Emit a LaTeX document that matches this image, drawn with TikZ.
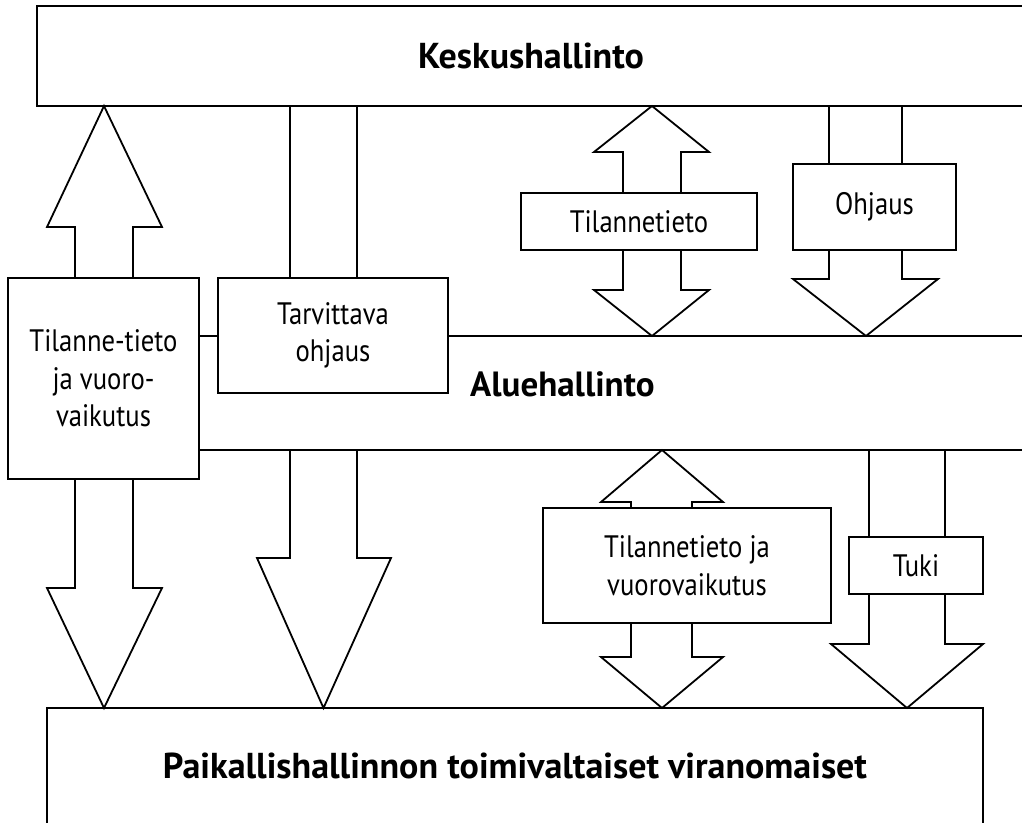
\documentclass[tikz,border=0pt]{standalone}
\usepackage{fontspec}
\newfontfamily\rfont{PT Sans}[FakeStretch=0.86]
\newfontfamily\bfont{PT Sans}[FakeStretch=1.0]
\tikzset{
  lw/.style={line width=1.8pt, line join=miter},
  box/.style={lw, draw=black, fill=white, rectangle, inner sep=0pt, align=center,
     font=\rfont\fontsize{31}{37.5}\selectfont},
  big/.style={lw, draw=black, fill=white, rectangle, inner sep=0pt, align=center,
     font=\bfont\bfseries\fontsize{36}{42}\selectfont},
  lbl/.style={inner sep=0pt, font=\bfont\bfseries\fontsize{35}{40}\selectfont},
  blk/.style={lw, draw=black}
}
\begin{document}
\begin{tikzpicture}[x=1pt,y=-1pt]
\useasboundingbox (0,0) rectangle (1022,822);
\clip (0,0) rectangle (1022,822);
\fill[white] (0,0) rectangle (1022,822);

% horizontal lines of the middle level
\draw[blk] (199,336) -- (218,336);
\draw[blk] (448,336) -- (1030,336);
\draw[blk] (199,450) -- (1030,450);

% big boxes
\node[big, minimum width=988pt, minimum height=100pt] (top) at (531,56) {Keskushallinto};
\node[big, minimum width=936pt, minimum height=116pt] (bot) at (515,766) {Paikallishallinnon toimivaltaiset viranomaiset};
\node[lbl, anchor=west] (alue) at (470,384) {Aluehallinto};

% block arrows
% left up arrow
\draw[blk] (75,278) -- (75,227) -- (47,227) -- (104,106) -- (162,227) -- (133,227) -- (133,278);
% Tarvittava shaft
\draw[blk] (290,106) -- (290,278);
\draw[blk] (357,106) -- (357,278);
% top Tilannetieto double arrow
\draw[blk] (623,193) -- (623,152) -- (594,152) -- (652,106) -- (709,152) -- (681,152) -- (681,193);
\draw[blk] (623,250) -- (623,290) -- (594,290) -- (652,336) -- (709,290) -- (681,290) -- (681,250);
% Ohjaus
\draw[blk] (829,106) -- (829,164);
\draw[blk] (902,106) -- (902,164);
\draw[blk] (829,250) -- (829,279) -- (793,279) -- (866,336) -- (938,279) -- (902,279) -- (902,250);
% left down arrow
\draw[blk] (75,479) -- (75,588) -- (47,588) -- (104,708) -- (162,588) -- (133,588) -- (133,479);
% second down arrow
\draw[blk] (290,450) -- (290,558) -- (257,558) -- (323.5,708) -- (391,558) -- (357,558) -- (357,450);
% bottom Tilannetieto double arrow
\draw[blk] (631,508) -- (631,502) -- (601,502) -- (662,450) -- (723,502) -- (692,502) -- (692,508);
\draw[blk] (631,623) -- (631,657) -- (601,657) -- (662,708) -- (723,657) -- (692,657) -- (692,623);
% Tuki
\draw[blk] (869,450) -- (869,537);
\draw[blk] (945,450) -- (945,537);
\draw[blk] (869,594) -- (869,644) -- (831,644) -- (907,708) -- (983,644) -- (945,644) -- (945,594);

% label boxes
\node[box, minimum width=191pt, minimum height=201pt] (vuoro) at (103.5,378.5) {Tilanne-tieto\\ja vuoro-\\vaikutus};
\node[box, minimum width=230pt, minimum height=115pt] (tarv) at (333,335.5) {Tarvittava\\ohjaus};
\node[box, minimum width=236pt, minimum height=57pt] (tila1) at (639,221.5) {Tilannetieto};
\node[box, minimum width=163pt, minimum height=86pt] (ohj) at (874.5,207) {Ohjaus};
\node[box, minimum width=288pt, minimum height=115pt] (tila2) at (687,565.5) {Tilannetieto ja\\vuorovaikutus};
\node[box, minimum width=134pt, minimum height=57pt] (tuki) at (916,565.5) {Tuki};
\end{tikzpicture}
\end{document}
